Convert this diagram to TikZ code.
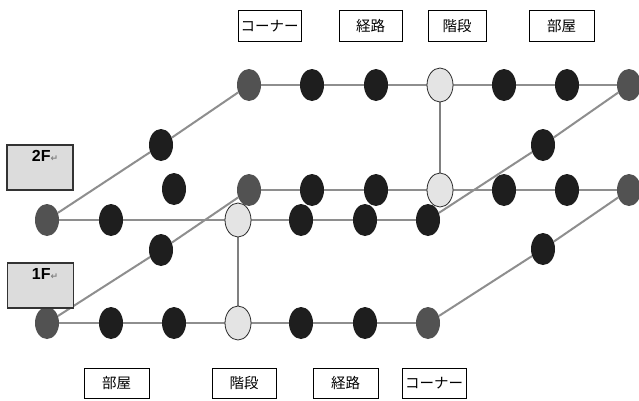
\documentclass[tikz,border=0pt]{standalone}
\usepackage{fontspec}
\setmainfont{Liberation Sans}
\newfontfamily\jpfont{Noto Sans CJK JP}
\newfontfamily\djfont{DejaVu Sans}
\usetikzlibrary{shapes.geometric,backgrounds}
\definecolor{edgegray}{HTML}{8E8E8E}
\definecolor{nodeblack}{HTML}{1E1E1E}
\definecolor{cornergray}{HTML}{525252}
\definecolor{stairfill}{HTML}{E4E4E4}
\definecolor{stairline}{HTML}{2A2A2A}
\definecolor{floorfill}{HTML}{DCDCDC}
\begin{document}
\begin{tikzpicture}[x=1pt,y=-1pt,
  dk/.style={ellipse, fill=nodeblack, minimum width=24pt, minimum height=32pt, inner sep=0pt},
  cr/.style={dk, fill=cornergray},
  st/.style={ellipse, fill=stairfill, draw=stairline, line width=0.8pt, minimum width=26pt, minimum height=34pt, inner sep=0pt},
  lab/.style={draw=black, line width=0.8pt, fill=white, font=\jpfont\fontsize{14.5}{14.5}\selectfont, minimum height=31pt, inner sep=0pt},
  fl/.style={draw=black!80, fill=floorfill, line width=1.2pt, minimum width=66pt, minimum height=45pt, inner sep=0pt},
  fltext/.style={font=\bfseries\fontsize{16}{16}\selectfont, inner sep=0pt, anchor=north},
  edge/.style={draw=edgegray, line width=2pt},
  vedge/.style={draw=edgegray!90!black, line width=1.3pt}]
\useasboundingbox (0,0) rectangle (639,400);

% 2F back row
\node[cr] (ub1) at (249,85) {};
\node[dk] (ub2) at (312,85) {};
\node[dk] (ub3) at (376,85) {};
\node[st] (ub4) at (440,85) {};
\node[dk] (ub5) at (504,85) {};
\node[dk] (ub6) at (567,85) {};
\node[cr] (ub7) at (629,85) {};
% 2F diagonal middles
\node[dk] (ul) at (161,145) {};
\node[dk] (ur) at (543,145) {};
% 2F front row
\node[cr] (uf1) at (47,220) {};
\node[dk] (uf2) at (111,220) {};
\node[st] (uf4) at (238,220) {};
\node[dk] (uf5) at (301,220) {};
\node[dk] (uf6) at (365,220) {};
\node[dk] (uf7) at (428,220) {};

% 1F back row
\node[dk] (iso) at (174,189) {};
\node[cr] (lb1) at (249,190) {};
\node[dk] (lb2) at (312,190) {};
\node[dk] (lb3) at (376,190) {};
\node[st] (lb4) at (440,190) {};
\node[dk] (lb5) at (504,190) {};
\node[dk] (lb6) at (567,190) {};
\node[cr] (lb7) at (629,190) {};
% 1F diagonal middles
\node[dk] (ll) at (161,250) {};
\node[dk] (lr) at (543,249) {};
% 1F front row
\node[cr] (lf1) at (47,323) {};
\node[dk] (lf2) at (111,323) {};
\node[dk] (lf3) at (174,323) {};
\node[st] (lf4) at (238,323) {};
\node[dk] (lf5) at (301,323) {};
\node[dk] (lf6) at (365,323) {};
\node[cr] (lf7) at (428,323) {};

\begin{pgfonlayer}{background}
  \fill[white] (0,0) rectangle (639,400);
  \draw[edge] (ub1) -- (ub2) -- (ub3) -- (ub4) -- (ub5) -- (ub6) -- (ub7);
  \draw[edge] (uf1) -- (uf2) -- (uf4) -- (uf5) -- (uf6) -- (uf7);
  \draw[edge] (uf1) -- (ul) -- (ub1);
  \draw[edge] (uf7) -- (ur) -- (ub7);
  \draw[edge] (lb1) -- (lb2) -- (lb3) -- (lb4) -- (lb5) -- (lb6) -- (lb7);
  \draw[edge] (lf1) -- (lf2) -- (lf3) -- (lf4) -- (lf5) -- (lf6) -- (lf7);
  \draw[edge] (lf1) -- (ll) -- (lb1);
  \draw[edge] (lf7) -- (lr) -- (lb7);
  \draw[vedge] (ub4) -- (lb4);
  \draw[vedge] (uf4) -- (lf4);
\end{pgfonlayer}

% floor boxes
\node[fl] (f2) at (40,167.5) {};
\node[fltext] (f2t) at (45,150) {2F\textcolor{gray}{\djfont\fontsize{9}{9}\selectfont ↵}};
\node[fl] (f1) at (40.5,285.5) {};
\node[fltext] (f1t) at (45,268) {1F\textcolor{gray}{\djfont\fontsize{9}{9}\selectfont ↵}};

% top labels
\node[lab, minimum width=63pt] (t1) at (269.5,26) {コーナー};
\node[lab, minimum width=63pt] (t2) at (370.5,26) {経路};
\node[lab, minimum width=58pt] (t3) at (457,26) {階段};
\node[lab, minimum width=65pt] (t4) at (561.5,26) {部屋};

% bottom labels
\node[lab, minimum width=65pt, minimum height=30pt] (b1) at (116.5,383) {部屋};
\node[lab, minimum width=64pt, minimum height=30pt] (b2) at (244,383) {階段};
\node[lab, minimum width=65pt, minimum height=30pt] (b3) at (345.5,383) {経路};
\node[lab, minimum width=64pt, minimum height=30pt] (b4) at (434,383) {コーナー};
\end{tikzpicture}
\end{document}
